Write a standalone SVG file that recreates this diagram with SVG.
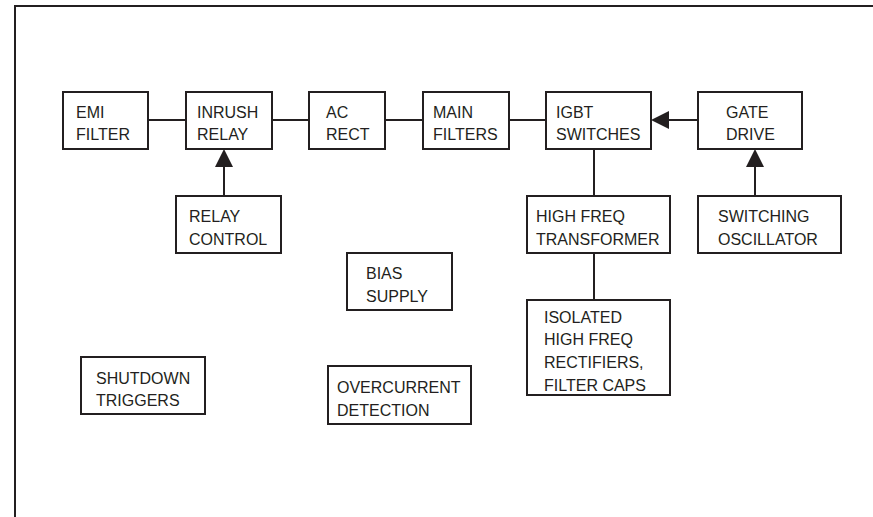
<svg xmlns="http://www.w3.org/2000/svg" width="873" height="517" viewBox="0 0 873 517">
<style>
.box{fill:#fff;stroke:#231f20;stroke-width:2}
.ln{stroke:#231f20;stroke-width:2;fill:none}
.ah{fill:#231f20;stroke:none}
text{font-family:"Liberation Sans",Arial,sans-serif;font-size:16px;fill:#231f20}
</style>
<rect width="873" height="517" fill="#fff"/>
<path class="ln" d="M15,530 V6 H880"/>
<g id="connectors">
<line class="ln" x1="148" y1="120" x2="186" y2="120"/>
<line class="ln" x1="272" y1="120" x2="309" y2="120"/>
<line class="ln" x1="385" y1="120" x2="423" y2="120"/>
<line class="ln" x1="509" y1="120" x2="546" y2="120"/>
<line class="ln" x1="698" y1="120" x2="668" y2="120"/>
<polygon class="ah" points="651,120 669,111 669,129"/>
<line class="ln" x1="224" y1="196" x2="224" y2="166"/>
<polygon class="ah" points="224,149 215,167 233,167"/>
<line class="ln" x1="755" y1="196" x2="755" y2="166"/>
<polygon class="ah" points="755,149 746,167 764,167"/>
<line class="ln" x1="594" y1="149" x2="594" y2="196"/>
<line class="ln" x1="594" y1="253" x2="594" y2="300"/>
</g>
<g id="emi"><rect class="box" x="63" y="92" width="85" height="57"/><text x="76" y="118">EMI</text><text x="76" y="140">FILTER</text></g>
<g id="inrush"><rect class="box" x="186" y="92" width="86" height="57"/><text x="197" y="118">INRUSH</text><text x="197" y="140">RELAY</text></g>
<g id="acrect"><rect class="box" x="309" y="92" width="76" height="57"/><text x="326" y="118">AC</text><text x="326" y="140">RECT</text></g>
<g id="mainfilters"><rect class="box" x="423" y="92" width="86" height="57"/><text x="433" y="118">MAIN</text><text x="433" y="140">FILTERS</text></g>
<g id="igbt"><rect class="box" x="546" y="92" width="105" height="57"/><text x="556" y="118">IGBT</text><text x="556" y="140">SWITCHES</text></g>
<g id="gatedrive"><rect class="box" x="698" y="92" width="104" height="57"/><text x="726" y="118">GATE</text><text x="726" y="140">DRIVE</text></g>
<g id="relaycontrol"><rect class="box" x="176" y="196" width="105" height="57"/><text x="189" y="222">RELAY</text><text x="189" y="245">CONTROL</text></g>
<g id="transformer"><rect class="box" x="527" y="196" width="143" height="57"/><text x="536" y="222">HIGH FREQ</text><text x="536" y="245">TRANSFORMER</text></g>
<g id="oscillator"><rect class="box" x="698" y="196" width="143" height="57"/><text x="718" y="222">SWITCHING</text><text x="718" y="245">OSCILLATOR</text></g>
<g id="bias"><rect class="box" x="347" y="253" width="105" height="57"/><text x="366" y="279">BIAS</text><text x="366" y="302">SUPPLY</text></g>
<g id="rectifiers"><rect class="box" x="527" y="300" width="143" height="95"/><text x="544" y="323">ISOLATED</text><text x="544" y="345">HIGH FREQ</text><text x="544" y="368">RECTIFIERS,</text><text x="544" y="391">FILTER CAPS</text></g>
<g id="shutdown"><rect class="box" x="81" y="357" width="124" height="57"/><text x="96" y="384">SHUTDOWN</text><text x="96" y="406">TRIGGERS</text></g>
<g id="overcurrent"><rect class="box" x="328" y="366" width="143" height="58"/><text x="337" y="393">OVERCURRENT</text><text x="337" y="416">DETECTION</text></g>
</svg>
